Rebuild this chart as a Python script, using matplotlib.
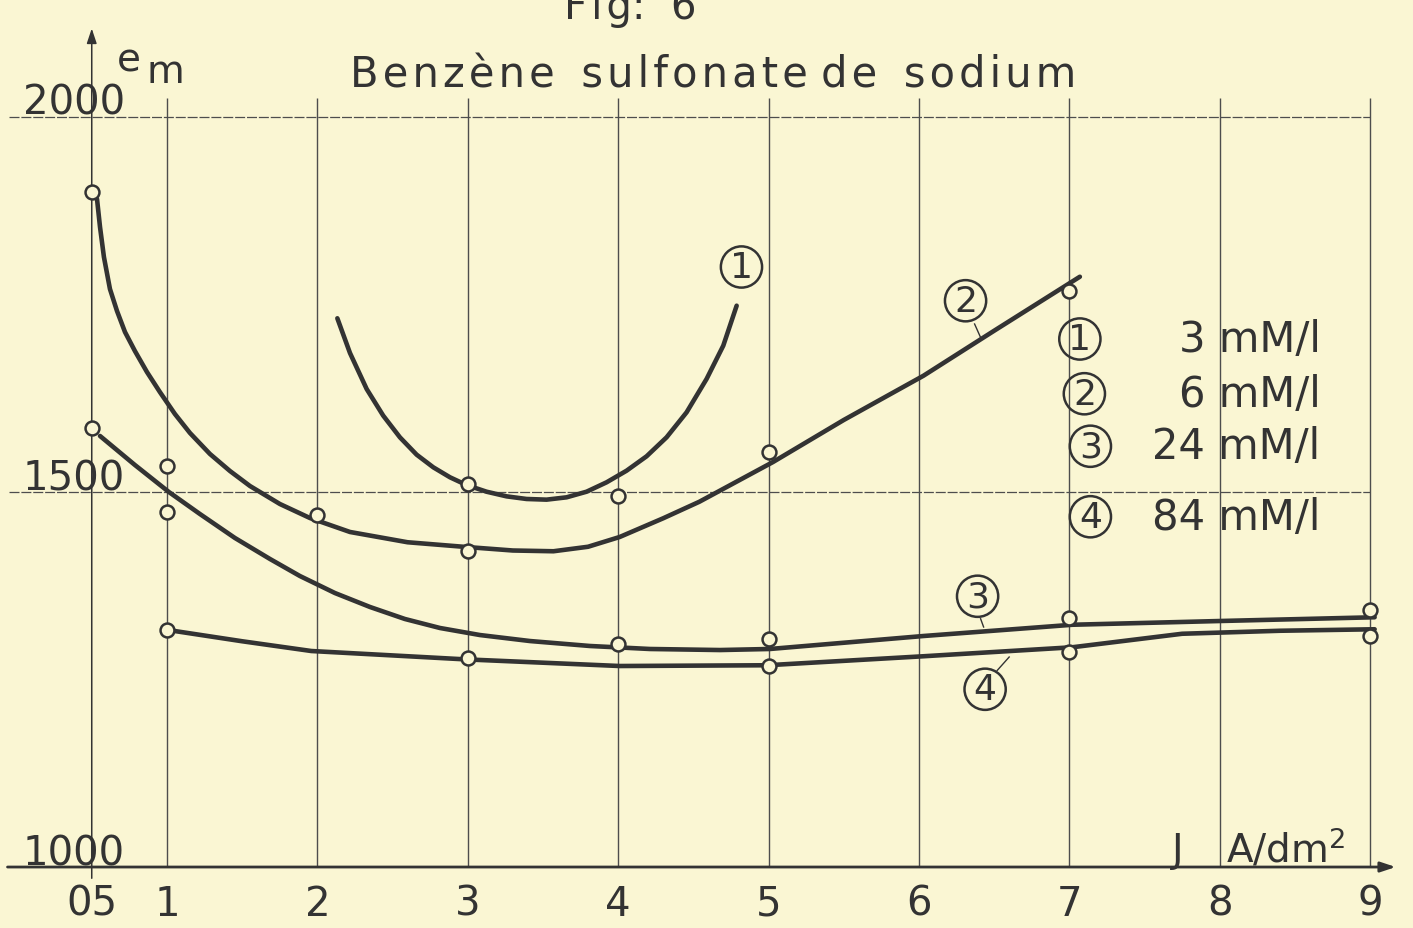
#!/usr/bin/env python3
"""
Fig 6 : Benzène sulfonate de sodium - em en fonction de J (A/dm2)
"""

import matplotlib
matplotlib.use('Agg')
import matplotlib.pyplot as plt

plt.rcParams['font.family'] = ['DejaVu Sans']

INK = '#333333'
GRID = '#4d4d4d'
PAPER = '#faf6d3'
HAIR = '\u200a'

# axes
x_ticks = [0.5, 1, 2, 3, 4, 5, 6, 7, 8, 9]
x_ticklabels = ['05', '1', '2', '3', '4', '5', '6', '7', '8', '9']
y_ticks = [1000, 1500, 2000]
y_ticklabels = ['1000', '1500', '2000']

# traces des courbes
c1_x = [2.133, 2.217, 2.328, 2.438, 2.549, 2.660, 2.771, 2.882, 2.992, 3.125, 3.258, 3.391,
        3.524, 3.657, 3.790, 3.923, 4.056, 4.189, 4.322, 4.455, 4.588, 4.699, 4.788]
c1_y = [1731.6, 1685.3, 1637.3, 1601.8, 1572.9, 1549.8, 1532.9, 1519.6, 1509.3, 1500.4, 1494.2, 1490.7,
        1489.8, 1492.9, 1500.4, 1512.9, 1528.4, 1547.6, 1572.9, 1606.2, 1650.7, 1695.1, 1748.4]

c2_x = [0.535, 0.555, 0.581, 0.621, 0.668, 0.721, 0.787, 0.867, 0.953, 1.053, 1.153, 1.286,
        1.419, 1.552, 1.751, 1.951, 2.217, 2.6, 2.97, 3.3, 3.57, 3.8, 4.01, 4.3, 4.54,
        5.03, 5.5, 6.03, 6.5, 7.07]
c2_y = [1890.7, 1853.3, 1813.3, 1770.7, 1741.3, 1713.3, 1688.0, 1660.0, 1633.3, 1604.0, 1578.7, 1550.7,
        1528.0, 1508.0, 1484.0, 1465.3, 1446.7, 1433, 1427, 1422, 1421, 1427, 1440, 1465, 1487,
        1540, 1596, 1655, 1715, 1787]

c3_x = [0.555, 0.787, 1.013, 1.219, 1.452, 1.685, 1.884, 2.117, 2.350, 2.582, 2.815, 3.081,
        3.414, 3.812, 4.211, 4.677, 5.009, 6.03, 7.02, 8.0, 9.03]
c3_y = [1574.7, 1536.0, 1500.0, 1470.7, 1438.7, 1410.7, 1388.0, 1365.3, 1346.7, 1330.7, 1318.7, 1309.3,
        1301.3, 1294.7, 1290.7, 1289.3, 1290.7, 1308, 1323, 1328, 1333]

c4_x = [1.04, 1.5, 1.96, 2.97, 4.01, 4.99, 6.03, 7.02, 7.75, 8.4, 9.03]
c4_y = [1315, 1301, 1288, 1277, 1268, 1269, 1281, 1293, 1311, 1315, 1317]

# points de mesure
p1_x = [3, 4]
p1_y = [1511, 1495]
p2_x = [0.5, 2, 3, 5, 7]
p2_y = [1900, 1469, 1421, 1553, 1768]
p3_x = [0.5, 1, 1, 4, 5, 7, 9]
p3_y = [1585, 1535, 1473, 1297, 1304, 1332, 1343]
p4_x = [1, 3, 5, 7, 9]
p4_y = [1316, 1279, 1268, 1287, 1308]

# étiquettes des courbes
curve_labels = ['1', '2', '3', '4']
label_x = [4.82, 6.31, 6.39, 6.44]
label_y = [1800, 1755, 1361, 1237]

# légende
legend_labels = ['3 mM/l', '6 mM/l', '24 mM/l', '84 mM/l']
legend_y = [1704, 1631, 1561, 1467]
legend_circle_x = [7.07, 7.10, 7.14, 7.14]


def spaced(word):
    """lettrage espacé comme au normographe"""
    return HAIR.join(word)


fig = plt.figure(figsize=(14.13, 9.29), dpi=100, facecolor=PAPER)
ax = fig.add_axes([0, 0, 1, 1], facecolor=PAPER)
ax.set_xlim(-0.11, 9.285)
ax.set_ylim(918.7, 2157.3)
ax.axis('off')

# quadrillage
ax.vlines(x_ticks[1:], 1000, 2025, color=GRID, lw=1.0, zorder=1)
ax.hlines(y_ticks[1:], -0.05, 9, color=GRID, lw=0.9, linestyles=(0, (8, 1.5)), zorder=1)

# axes avec flèches
ax.annotate('', xy=(0.5, 2118), xytext=(0.5, 985),
            arrowprops=dict(arrowstyle='-|>,head_length=0.9,head_width=0.3',
                            color=INK, lw=1.1, shrinkA=0, shrinkB=0))
ax.annotate('', xy=(9.17, 1000), xytext=(-0.06, 1000),
            arrowprops=dict(arrowstyle='-|>,head_length=0.9,head_width=0.3',
                            color=INK, lw=2.0, shrinkA=0, shrinkB=0))

# graduations
for x, lab in zip(x_ticks, x_ticklabels):
    ax.text(x, 951, lab, fontsize=29, color=INK, ha='center', va='center')
for v, lab in zip(y_ticks, y_ticklabels):
    ax.text(0.04, v + 4, lab, fontsize=29, color=INK, ha='left', va='baseline')

# courbes
lw = 3.3
for cx, cy in [(c1_x, c1_y), (c2_x, c2_y), (c3_x, c3_y), (c4_x, c4_y)]:
    ax.plot(cx, cy, color=INK, lw=lw, solid_capstyle='round', solid_joinstyle='round', zorder=3)

for px, py in [(p1_x, p1_y), (p2_x, p2_y), (p3_x, p3_y), (p4_x, p4_y)]:
    ax.plot(px, py, ls='none', marker='o', ms=10, mfc=PAPER, mec=INK, mew=1.8, zorder=4)

# étiquettes cerclées sur les courbes
circ = dict(boxstyle='circle,pad=0.1', fc='none', ec=INK, lw=1.8)
for lab, x, y in zip(curve_labels, label_x, label_y):
    ax.text(x, y, lab, fontsize=26, color=INK, ha='center', va='center', bbox=circ)
# traits de rappel
ax.plot([6.37, 6.41], [1724, 1706], color=INK, lw=1.0)
ax.plot([6.41, 6.43], [1331, 1320], color=INK, lw=1.0)
ax.plot([6.52, 6.60], [1262, 1280], color=INK, lw=1.0)

# légende
for lab, cx, y, txt in zip(curve_labels, legend_circle_x, legend_y, legend_labels):
    ax.text(cx, y, lab, fontsize=26, color=INK, ha='center', va='center', bbox=circ)
    ax.text(8.67, y, txt, fontsize=30, color=INK, ha='right', va='center')

# titres
ax.text(4.08, 2132, 'F' + HAIR + 'i' + HAIR + 'g:  6', fontsize=29, color=INK,
        ha='center', va='baseline')
title = spaced('Benzène') + '  ' + spaced('sulfonate') + ' ' + spaced('de') + '  ' + spaced('sodium')
ax.text(4.63, 2040, title, fontsize=30, color=INK, ha='center', va='baseline')
ax.text(0.75, 2077, 'e', fontsize=28, color=INK, ha='center', va='center')
ax.text(0.99, 2061, 'm', fontsize=28, color=INK, ha='center', va='center')
ax.text(7.68, 1008, 'J', fontsize=28, color=INK, ha='left', va='baseline')
ax.text(8.04, 1008, 'A/dm$^2$', fontsize=28, color=INK, ha='left', va='baseline')

fig.savefig('out.png', dpi=100, facecolor=PAPER)
